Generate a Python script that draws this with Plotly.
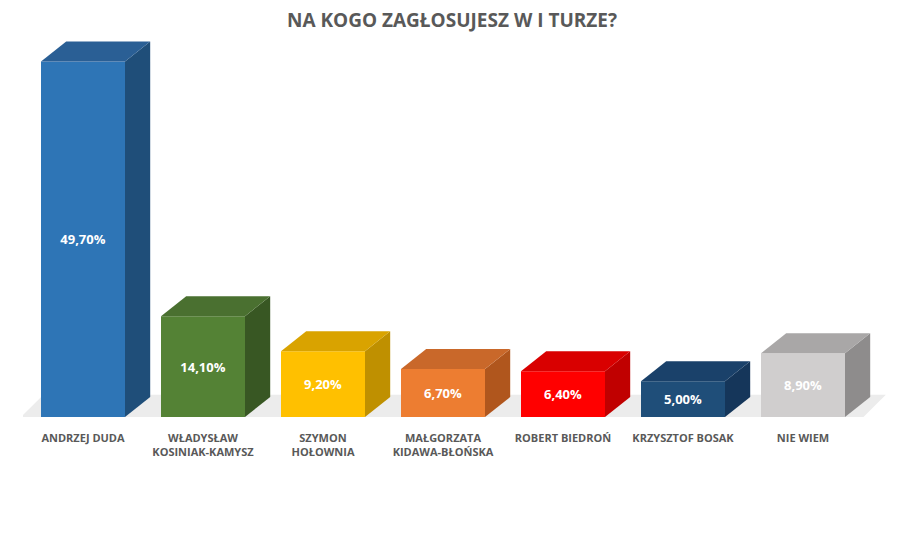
import plotly.graph_objects as go

categories = ["ANDRZEJ DUDA", "WŁADYSŁAW<br>KOSINIAK-KAMYSZ", "SZYMON<br>HOŁOWNIA",
              "MAŁGORZATA<br>KIDAWA-BŁOŃSKA", "ROBERT BIEDROŃ", "KRZYSZTOF BOSAK", "NIE WIEM"]
values = [49.7, 14.1, 9.2, 6.7, 6.4, 5.0, 8.9]
labels = ["49,70%", "14,10%", "9,20%", "6,70%", "6,40%", "5,00%", "8,90%"]
front_colors = ["#2E75B6", "#548235", "#FFC000", "#ED7D31", "#FF0000", "#1F4E79", "#D0CECE"]
top_colors = ["#2A5F95", "#4A7030", "#D9A300", "#C9682A", "#D90000", "#1A416A", "#A9A7A7"]
side_colors = ["#1F4E79", "#385723", "#BF9000", "#B0561D", "#C00000", "#15365A", "#8E8C8C"]

BW = 0.7      # bar width (category units)
DX = 0.21     # depth, horizontal (category units)
DY = 2.8      # depth, vertical (value units)

xs = list(range(len(values)))
n = len(values)
fig = go.Figure()

# front faces
fig.add_trace(go.Bar(
    x=xs, y=values, width=BW, marker=dict(color=front_colors, line=dict(width=0)),
    text=labels, textposition="inside", insidetextanchor="middle", textangle=0,
    textfont=dict(family="Open Sans", size=13, color="white", weight="bold"),
    constraintext="none", showlegend=False, hoverinfo="skip"))

# side and top faces
for i, v in enumerate(values):
    r = i + BW / 2
    l = i - BW / 2
    fig.add_trace(go.Scatter(
        x=[r, r + DX, r + DX, r, r], y=[0, DY, v + DY, v, 0],
        fill="toself", mode="lines", line=dict(width=0),
        fillcolor=side_colors[i], hoverinfo="skip", showlegend=False))
    fig.add_trace(go.Scatter(
        x=[l, l + DX, r + DX, r, l], y=[v, v + DY, v + DY, v, v],
        fill="toself", mode="lines", line=dict(width=0),
        fillcolor=top_colors[i], hoverinfo="skip", showlegend=False))

# floor (below the bars)
fx0, fx1 = -0.54, n - 0.52
floor_path = (f"M {fx0},-0.4 L {fx1},-0.4 L {fx1 + DX},{DY + 0.3} "
              f"L {fx0 + DX},{DY + 0.3} Z")
fig.add_shape(type="path", path=floor_path, xref="x", yref="y", layer="below",
              fillcolor="#ECECEC", line=dict(width=0))

fig.update_layout(
    width=915, height=554,
    margin=dict(l=23, r=16, t=38, b=137),
    paper_bgcolor="white", plot_bgcolor="white",
    title=dict(text="NA KOGO ZAGŁOSUJESZ W I TURZE?", x=0.494, xanchor="center",
               y=0.963, yanchor="middle",
               font=dict(family="Open Sans", size=19, color="#595959", weight="bold")),
    xaxis=dict(range=[-0.5, 6.8], tickvals=xs, ticktext=categories, showgrid=False,
               zeroline=False, showline=False, ticks="", ticklabelstandoff=13,
               tickfont=dict(family="Open Sans", size=11, color="#595959", weight="bold"),
               fixedrange=True),
    yaxis=dict(range=[0, 53], visible=False, fixedrange=True),
)

fig.write_html("out.html", config={"displayModeBar": False},
               post_script="document.body.style.margin='0';")
